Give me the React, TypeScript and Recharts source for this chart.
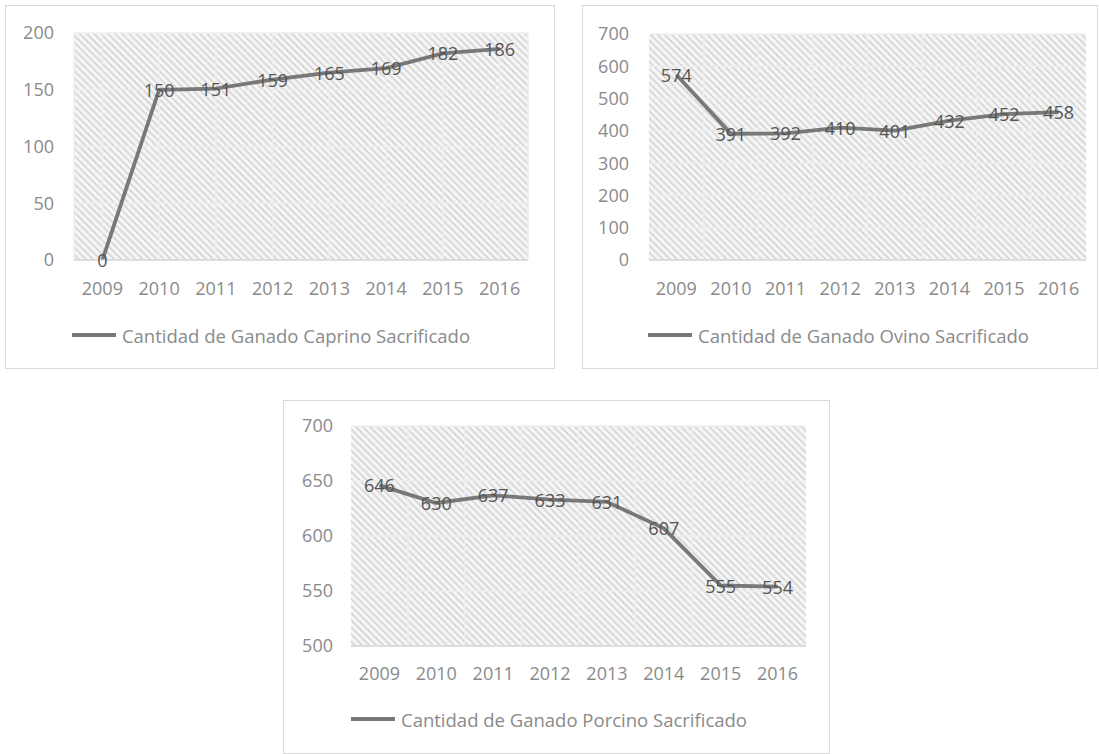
import { LineChart, Line, XAxis, YAxis, CartesianGrid, Legend, LabelList } from "recharts";

const YEARS = ["2009", "2010", "2011", "2012", "2013", "2014", "2015", "2016"];
const CAPRINO = [0, 150, 151, 159, 165, 169, 182, 186];
const OVINO = [574, 391, 392, 410, 401, 432, 452, 458];
const PORCINO = [646, 630, 637, 633, 631, 607, 555, 554];

const CAPRINO_TICKS = [0, 50, 100, 150, 200];
const OVINO_TICKS = [0, 100, 200, 300, 400, 500, 600, 700];
const PORCINO_TICKS = [500, 550, 600, 650, 700];

const FONT = '"Open Sans", sans-serif';
const TEXT_GRAY = "#8a8a8a";
const LINE_GRAY = "#787878";
const LABEL_GRAY = "#555555";

function ValueLabel(props: any) {
  const x = props.x ?? props.viewBox?.x;
  const y = props.y ?? props.viewBox?.y;
  return (
    <text x={x} y={y} textAnchor="middle" dominantBaseline="central" fill={LABEL_GRAY} fontSize={18} fontFamily={FONT}>
      {props.value}
    </text>
  );
}

function LegendLine({ name }: { name: string }) {
  return (
    <div style={{ display: "flex", justifyContent: "center", alignItems: "center", height: 26, fontFamily: FONT, fontSize: 18.5, color: TEXT_GRAY, paddingLeft: 8 }}>
      <svg width={44} height={6} style={{ marginRight: 6 }}>
        <line x1={0} y1={3} x2={44} y2={3} stroke={LINE_GRAY} strokeWidth={4} />
      </svg>
      <span>{name}</span>
    </div>
  );
}

// vertical grid lines between categories (Excel style)
const betweenCategories = ({ offset }: any) =>
  YEARS.slice(1).map((_, i) => offset.left + ((i + 1) * offset.width) / YEARS.length);

interface PanelProps {
  values: number[];
  ticks: number[];
  name: string;
  left: number;
  top: number;
  width: number;
  height: number;
  margin: { top: number; right: number; bottom: number; left: number };
  yWidth: number;
  yGap: number;
  xGap: number;
  xHeight: number;
  gridBetween: boolean;
}

function Panel(p: PanelProps) {
  const data = YEARS.map((year, i) => ({ year, value: p.values[i] }));
  const tick = { fill: TEXT_GRAY, fontSize: 18, fontFamily: FONT };
  return (
    <div style={{ position: "absolute", left: p.left, top: p.top, width: p.width, height: p.height, border: "1px solid #d9d9d9", background: "#fff" }}>
      <LineChart width={p.width} height={p.height} data={data} margin={p.margin}>
        <CartesianGrid
          fill="url(#hatch)"
          fillOpacity={1}
          stroke="#eeeeee"
          strokeWidth={1.5}
          verticalCoordinatesGenerator={p.gridBetween ? betweenCategories : undefined}
        />
        <XAxis
          dataKey="year"
          scale="band"
          interval={0}
          axisLine={{ stroke: "#d6d6d6", strokeWidth: 1.5 }}
          tickLine={false}
          tickSize={0}
          tickMargin={p.xGap}
          height={p.xHeight}
          tick={tick}
        />
        <YAxis
          domain={[p.ticks[0], p.ticks[p.ticks.length - 1]]}
          ticks={p.ticks}
          interval={0}
          axisLine={false}
          tickLine={false}
          tickSize={0}
          tickMargin={p.yGap}
          width={p.yWidth}
          tick={tick}
        />
        <Legend verticalAlign="bottom" content={() => <LegendLine name={p.name} />} />
        <Line dataKey="value" name={p.name} stroke={LINE_GRAY} strokeWidth={3.8} dot={false} isAnimationActive={false}>
          <LabelList dataKey="value" content={ValueLabel} />
        </Line>
      </LineChart>
    </div>
  );
}

export default function App() {
  return (
    <div>
      <svg width={0} height={0} style={{ position: "absolute" }}>
        <defs>
          <pattern id="hatch" width={5} height={5} patternUnits="userSpaceOnUse" patternTransform="rotate(45)">
            <rect width={5} height={5} fill="#f7f7f7" />
            <line x1={0} y1={2.5} x2={5} y2={2.5} stroke="#d0d0d0" strokeWidth={1.6} />
          </pattern>
        </defs>
      </svg>
      <Panel
        values={CAPRINO}
        ticks={CAPRINO_TICKS}
        name="Cantidad de Ganado Caprino Sacrificado"
        left={5}
        top={5}
        width={548}
        height={362}
        margin={{ top: 27, right: 26, bottom: 20, left: 0 }}
        yWidth={68}
        yGap={20}
        xGap={22}
        xHeight={62}
        gridBetween={false}
      />
      <Panel
        values={OVINO}
        ticks={OVINO_TICKS}
        name="Cantidad de Ganado Ovino Sacrificado"
        left={582}
        top={5}
        width={514}
        height={362}
        margin={{ top: 28, right: 11, bottom: 20, left: 0 }}
        yWidth={66}
        yGap={20}
        xGap={22}
        xHeight={62}
        gridBetween={true}
      />
      <Panel
        values={PORCINO}
        ticks={PORCINO_TICKS}
        name="Cantidad de Ganado Porcino Sacrificado"
        left={283}
        top={400}
        width={545}
        height={352}
        margin={{ top: 25, right: 23, bottom: 21, left: 0 }}
        yWidth={67}
        yGap={18}
        xGap={21}
        xHeight={60}
        gridBetween={true}
      />
    </div>
  );
}
